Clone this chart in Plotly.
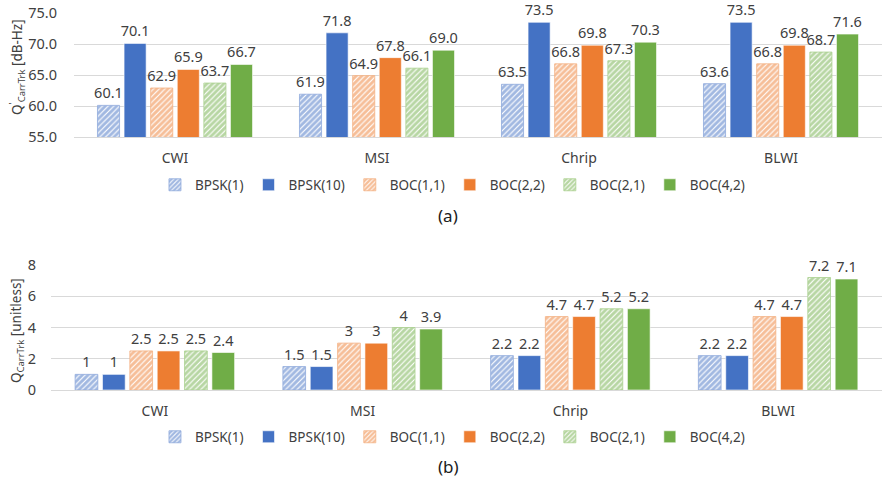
import plotly.graph_objects as go

categories = ["CWI", "MSI", "Chrip", "BLWI"]
series_names = ["BPSK(1)", "BPSK(10)", "BOC(1,1)", "BOC(2,2)", "BOC(2,1)", "BOC(4,2)"]

top_bpsk1 = [60.1, 61.9, 63.5, 63.6]
top_bpsk10 = [70.1, 71.8, 73.5, 73.5]
top_boc11 = [62.9, 64.9, 66.8, 66.8]
top_boc22 = [65.9, 67.8, 69.8, 69.8]
top_boc21 = [63.7, 66.1, 67.3, 68.7]
top_boc42 = [66.7, 69.0, 70.3, 71.6]

bot_bpsk1 = [1, 1.5, 2.2, 2.2]
bot_bpsk10 = [1, 1.5, 2.2, 2.2]
bot_boc11 = [2.5, 3, 4.7, 4.7]
bot_boc22 = [2.5, 3, 4.7, 4.7]
bot_boc21 = [2.5, 4, 5.2, 7.2]
bot_boc42 = [2.4, 3.9, 5.2, 7.1]

top_vals = [top_bpsk1, top_bpsk10, top_boc11, top_boc22, top_boc21, top_boc42]
bot_vals = [bot_bpsk1, bot_bpsk10, bot_boc11, bot_boc22, bot_boc21, bot_boc42]

colors = ["#4472C4", "#4472C4", "#ED7D31", "#ED7D31", "#70AD47", "#70AD47"]
light = ["#8FAADC", "#4472C4", "#F4B183", "#ED7D31", "#A9D18E", "#70AD47"]
hatched = [True, False, True, False, True, False]

FONT = "Noto Sans"
TXT = "#404040"
GRID = "#D9D9D9"

fig = go.Figure()


def fmt_general(v):
    return "%g" % v


for i, name in enumerate(series_names):
    for panel, vals in (("top", top_vals[i]), ("bot", bot_vals[i])):
        if hatched[i]:
            marker = dict(color="white",
                          pattern=dict(shape="/", fgcolor=colors[i], bgcolor="white",
                                       size=4, solidity=0.72),
                          line=dict(color=light[i], width=0.8))
        else:
            marker = dict(color=colors[i], line=dict(color="white", width=0.6))
        if panel == "top":
            txt = ["%.1f" % v for v in vals]
            xa, ya, lg = "x", "y", "legend"
        else:
            txt = [fmt_general(v) for v in vals]
            xa, ya, lg = "x2", "y2", "legend2"
        fig.add_trace(go.Bar(
            x=categories, y=vals, name=name, marker=marker,
            text=txt, textposition="outside", cliponaxis=False,
            constraintext="none",
            textfont=dict(family=FONT, size=14.5, color=TXT),
            xaxis=xa, yaxis=ya, legend=lg))

W, H = 896, 484

fig.update_layout(
    width=W, height=H,
    margin=dict(l=0, r=0, t=0, b=0, autoexpand=False),
    paper_bgcolor="white", plot_bgcolor="white",
    font=dict(family=FONT, size=14, color=TXT),
    barmode="group", bargap=0.21, bargroupgap=0.17,
    xaxis=dict(domain=[74 / W, 882 / W], anchor="y", showgrid=False,
               showline=True, linecolor=GRID, ticks="", ticklabelstandoff=8,
               tickfont=dict(family=FONT, size=14, color=TXT)),
    yaxis=dict(domain=[1 - 137 / H, 1 - 13 / H], anchor="x", range=[55, 75],
               tickvals=[55, 60, 65, 70, 75], ticktext=["55.0", "60.0", "65.0", "70.0", "75.0"],
               showgrid=True, gridcolor=GRID, zeroline=False, showline=False,
               ticklabelstandoff=16, tickfont=dict(family=FONT, size=14.5, color=TXT)),
    xaxis2=dict(domain=[51 / W, 882 / W], anchor="y2", showgrid=False,
                showline=True, linecolor=GRID, ticks="", ticklabelstandoff=8,
                tickfont=dict(family=FONT, size=14, color=TXT)),
    yaxis2=dict(domain=[1 - 390 / H, 1 - 265 / H], anchor="x2", range=[0, 8],
                tickvals=[0, 2, 4, 6, 8],
                showgrid=True, gridcolor=GRID, zeroline=False, showline=False,
                ticklabelstandoff=14, tickfont=dict(family=FONT, size=14.5, color=TXT)),
    legend=dict(orientation="h", x=0.505, xanchor="center", y=1 - 185 / H, yanchor="middle",
                font=dict(family=FONT, size=13.5, color=TXT), itemwidth=30,
                bgcolor="rgba(0,0,0,0)"),
    legend2=dict(orientation="h", x=0.505, xanchor="center", y=1 - 437 / H, yanchor="middle",
                 font=dict(family=FONT, size=13.5, color=TXT), itemwidth=30,
                 bgcolor="rgba(0,0,0,0)"),
    annotations=[
        dict(text="(a)", x=0.5, y=1 - 215 / H, xref="paper", yref="paper",
             xanchor="center", yanchor="middle",
             showarrow=False, font=dict(family=FONT, size=17, color="#202020")),
        dict(text="(b)", x=0.5, y=1 - 466 / H, xref="paper", yref="paper",
             xanchor="center", yanchor="middle",
             showarrow=False, font=dict(family=FONT, size=17, color="#202020")),
        dict(text="Q<sup>'</sup><sub>CarrTrk</sub> [dB-Hz]", x=17 / W, y=1 - 67 / H,
             xref="paper", yref="paper", showarrow=False, textangle=-90,
             xanchor="center", yanchor="middle",
             font=dict(family=FONT, size=13.5, color=TXT)),
        dict(text="Q<sub>CarrTrk</sub> [unitless]", x=17 / W, y=1 - 331 / H,
             xref="paper", yref="paper", showarrow=False, textangle=-90,
             xanchor="center", yanchor="middle",
             font=dict(family=FONT, size=13.5, color=TXT)),
    ],
)

fig.write_html("out.html", config={"displayModeBar": False},
               post_script="document.body.style.margin='0';document.body.style.padding='0';")
